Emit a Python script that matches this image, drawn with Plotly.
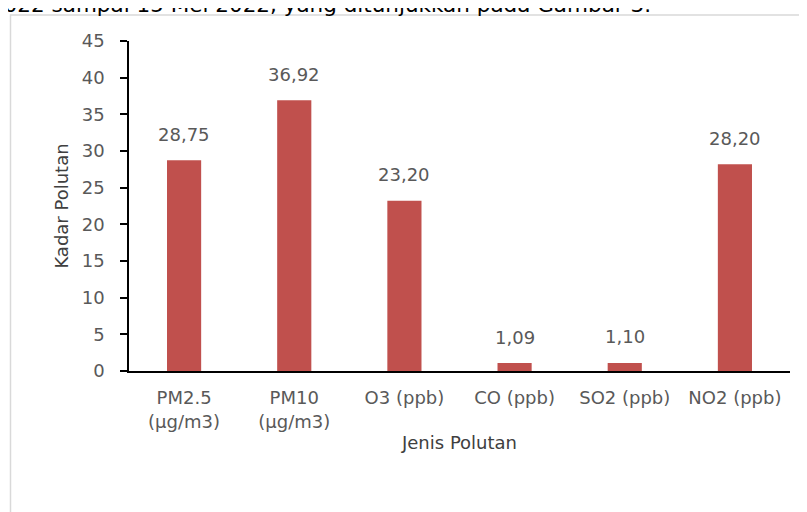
import plotly.graph_objects as go

categories = ["PM2.5<br>(µg/m3)", "PM10<br>(µg/m3)", "O3 (ppb)", "CO (ppb)", "SO2 (ppb)", "NO2 (ppb)"]
values = [28.75, 36.92, 23.20, 1.09, 1.10, 28.20]
y_ticks = [0, 5, 10, 15, 20, 25, 30, 35, 40, 45]

FONT = "DejaVu Sans"
GREY = "#595959"
FS = 18

OFF = 8  # page body margin
W, H = 807 - OFF, 512 - OFF
# plot area in screen pixels
X0, X1, Y0, Y1 = 129, 790, 41, 371
L, R, T, B = X0 - OFF, W - (X1 - OFF), Y0 - OFF, H - (Y1 - OFF)
pw, ph = X1 - X0, Y1 - Y0

def px_x(px):
    return (px - X0) / pw

def px_y(py):
    return (Y1 - py) / ph

fig = go.Figure()
fig.add_trace(go.Bar(
    x=categories, y=values,
    marker=dict(color="#C0504D", line=dict(width=0)),
    width=0.31,
))

for c, v in zip(categories, values):
    fig.add_annotation(
        x=c, y=v, xref="x", yref="y",
        text=f"{v:.2f}".replace(".", ","),
        showarrow=False, yanchor="middle", yshift=26,
        font=dict(family=FONT, size=FS, color=GREY),
    )

# outer chart border
fig.add_shape(type="rect", xref="paper", yref="paper",
              x0=px_x(10.5), x1=px_x(1000), y0=px_y(15), y1=px_y(800),
              line=dict(color="#D9D9D9", width=1.5), fillcolor="rgba(0,0,0,0)", layer="below")

# cut-off text of the page above the chart
fig.add_annotation(
    xref="paper", yref="paper", x=px_x(-12), y=px_y(4),
    xanchor="left", yanchor="middle",
    text="2022 sampai 15 Mei 2022, yang ditunjukkan pada Gambar 3.",
    showarrow=False, font=dict(family=FONT, size=21.5, color="#000000"),
)

fig.update_layout(
    width=W, height=H,
    margin=dict(l=L, r=R, t=T, b=B),
    paper_bgcolor="white", plot_bgcolor="white",
    showlegend=False,
    font=dict(family=FONT, size=FS, color=GREY),
    bargap=0.69,
    xaxis=dict(
        showline=True, linecolor="#000000", linewidth=1.5,
        ticks="", tickfont=dict(family=FONT, size=FS, color=GREY),
        ticklabelstandoff=10,
        title=dict(text="Jenis Polutan", font=dict(family=FONT, size=FS, color="#404040"), standoff=6),
        showgrid=False, zeroline=False,
    ),
    yaxis=dict(
        range=[0, 45], tickvals=y_ticks,
        showline=True, linecolor="#000000", linewidth=1.5,
        ticks="outside", ticklen=7, tickcolor="#000000", tickwidth=1.5,
        ticklabelstandoff=12,
        tickfont=dict(family=FONT, size=FS, color=GREY),
        title=dict(text="Kadar Polutan", font=dict(family=FONT, size=FS, color="#404040"), standoff=8),
        showgrid=False, zeroline=False,
    ),
)

fig.write_html("out.html")
